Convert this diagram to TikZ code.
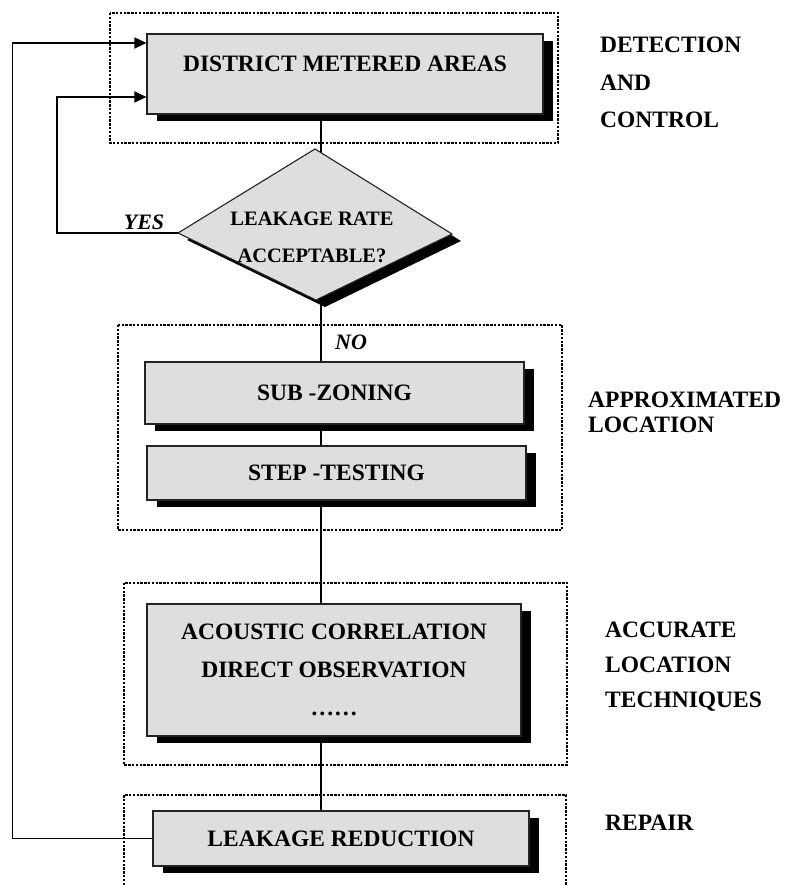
\documentclass[tikz,border=0pt]{standalone}
\usepackage{fontspec}
\setmainfont{Liberation Serif}
\usetikzlibrary{arrows.meta,shadows,backgrounds,calc}
\definecolor{boxgray}{RGB}{222,222,222}
\definecolor{edgegray}{RGB}{35,35,35}
\begin{document}
\begin{tikzpicture}[x=1pt,y=-1pt,
  procbox/.style={draw=edgegray, line width=1.1pt, fill=boxgray, rectangle,
    inner sep=0pt, align=center,
    font=\fontsize{23.5}{38}\selectfont\bfseries,
    drop shadow={shadow xshift=10pt, shadow yshift=-7pt, fill=black, opacity=1}},
  zone/.style={draw=black, line width=2.6pt, dash pattern=on 2.4pt off 1.4pt},
  conn/.style={draw=black, line width=1.3pt},
  feed/.style={conn, -{Triangle[length=12pt,width=11pt]}},
  sidelabel/.style={anchor=base west, inner sep=0pt,
    font=\fontsize{23.5}{28}\selectfont\bfseries},
  answer/.style={inner sep=0pt, font=\fontsize{22}{26}\selectfont\bfseries\itshape},
  question/.style={inner sep=0pt, align=center,
    font=\fontsize{20.5}{37}\selectfont\bfseries},
]
\useasboundingbox (0,0) rectangle (795,885);

% decision diamond with its offset shadow
\begin{scope}[shift={(9,7)}]
  \fill[black] (315,149) -- (452,234) -- (316,300) -- (178,233) -- cycle;
\end{scope}
\coordinate (dT) at (315,149);
\coordinate (dR) at (452,234);
\coordinate (dB) at (316,300);
\coordinate (dL) at (178,233);
\coordinate (dC) at (315,225);
\draw[draw=edgegray, line width=1.1pt, fill=boxgray] (dT) -- (dR) -- (dB) -- (dL) -- cycle;
\node[question] (dtext) at (312,237) {LEAKAGE RATE\\ACCEPTABLE?};

% process boxes
\node[procbox, minimum width=396pt, minimum height=80pt, text depth=21.5pt]
  (dma) at (345,74) {DISTRICT METERED AREAS};
\node[procbox, minimum width=379pt, minimum height=62pt] (sub) at (334.5,393) {SUB -ZONING};
\node[procbox, minimum width=379pt, minimum height=54pt] (step) at (336.5,473) {STEP -TESTING};
\node[procbox, minimum width=374pt, minimum height=132pt] (acou) at (334,670)
  {ACOUSTIC CORRELATION\\DIRECT OBSERVATION\\……};
\node[procbox, minimum width=376pt, minimum height=55pt] (leak) at (341,838.5) {LEAKAGE REDUCTION};

% spine of the flow and arrow targets on the first box
\coordinate (ax) at (321,0);
\coordinate (in1) at (dma.west |- 0,43);
\coordinate (in2) at (dma.west |- 0,97);

\begin{scope}[on background layer]
  \fill[white] (0,0) rectangle (795,885);
  % stage frames
  \draw[zone] (110,13) rectangle (558,143);
  \draw[zone] (118,325) rectangle (562,530);
  \draw[zone] (124,583) rectangle (567,765);
  \draw[zone] (124,885) -- (124,795) -- (566,795) -- (566,885);
  % connectors
  \draw[conn] (dma.south -| ax) -- (dC -| ax);
  \draw[conn] (dC -| ax) -- (sub.north -| ax);
  \draw[conn] (sub.south -| ax) -- (step.north -| ax);
  \draw[conn] (step.south -| ax) -- (acou.north -| ax);
  \draw[conn] (acou.south -| ax) -- (leak.north -| ax);
\end{scope}

% feedback loops
\draw[feed] (dL) -- (57,233) |- (in2);
\draw[feed] (leak.west) -- ++(-140,0) |- (in1);

% branch answers
\node[answer] (yes) at (144,222) {YES};
\node[answer] (no) at (351,342) {NO};

% stage names
\node[sidelabel] (det1) at (600,53) {DETECTION};
\node[sidelabel] (det2) at (600,91) {AND};
\node[sidelabel] (det3) at (600,128) {CONTROL};
\node[sidelabel] (app1) at (588,407) {APPROXIMATED};
\node[sidelabel] (app2) at (588,432) {LOCATION};
\node[sidelabel] (acc1) at (605,637) {ACCURATE};
\node[sidelabel] (acc2) at (605,672) {LOCATION};
\node[sidelabel] (acc3) at (605,707) {TECHNIQUES};
\node[sidelabel] (rep) at (605,830) {REPAIR};
\end{tikzpicture}
\end{document}
